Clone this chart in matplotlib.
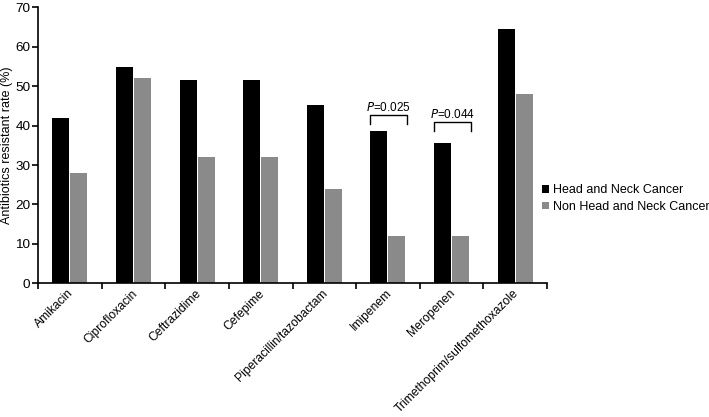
import matplotlib
matplotlib.use('Agg')
import matplotlib.pyplot as plt
import numpy as np

plt.rcParams['font.family'] = ['Liberation Sans', 'DejaVu Sans']

drugs = ['Amikacin', 'Ciprofloxacin', 'Ceftrazidime', 'Cefepime',
         'Piperacillin/tazobactam', 'Imipenem', 'Meropenen',
         'Trimethoprim/sulfomethoxazole']
hnc = [41.9, 54.8, 51.6, 51.6, 45.2, 38.7, 35.5, 64.5]
non_hnc = [27.9, 52.0, 32.0, 32.0, 24.0, 12.0, 12.0, 48.0]
p_idx = [5, 6]
p_text = ['0.025', '0.044']
p_bracket_y = [42.7, 40.9]

fig = plt.figure(figsize=(7.09, 4.17), dpi=100)
ax = fig.add_axes([38/709, 1-283.3/417, (547-38)/709, (283.3-7.3)/417])

x = np.arange(len(drugs))
w = 0.267
g = 0.016
ax.bar(x - w/2 - g/2, hnc, w, color='black', label='Head and Neck Cancer')
ax.bar(x + w/2 + g/2, non_hnc, w, color='#8a8a8a', label='Non Head and Neck Cancer')

# p-value brackets
for i, txt, top in zip(p_idx, p_text, p_bracket_y):
    x0 = i - w - g/2
    x1 = i + w + g/2 + 0.03
    ax.plot([x0, x0, x1, x1], [top - 2.3, top, top, top - 2.3], color='black', lw=1.0,
            solid_joinstyle='round')
    ax.text((x0 + x1)/2, top + 2.0, r'$\mathit{P}$' + '=' + txt, ha='center', va='center',
            fontsize=8.5)

ax.set_xlim(-0.5, len(drugs) - 0.5)
ax.set_ylim(0, 70)
ax.set_yticks(range(0, 71, 10))
ax.set_xticks(np.arange(-0.5, len(drugs), 1.0), minor=False)
ax.set_xticklabels([])
ax.set_xticks(x + 0.03, minor=True)
ax.set_xticklabels(drugs, minor=True, rotation=45, ha='right', va='center',
                   rotation_mode='anchor', fontsize=8.7)
ax.tick_params(axis='x', which='minor', length=0, pad=6)
ax.tick_params(axis='x', which='major', length=4, width=1.2, direction='out')
ax.tick_params(axis='y', length=4, width=1.2, labelsize=9.7, pad=1.5)
ax.spines['top'].set_visible(False)
ax.spines['right'].set_visible(False)
ax.spines['left'].set_linewidth(1.2)
ax.spines['bottom'].set_linewidth(1.2)
ax.set_ylabel('Antibiotics resistant rate (%)', fontsize=9)
ax.yaxis.set_label_coords(-0.049, 0.5)

ax.legend(loc='center left', bbox_to_anchor=(0.99, 0.307), frameon=False, fontsize=9,
          borderaxespad=0, borderpad=0,
          handlelength=0.55, handleheight=0.55, handletextpad=0.35, labelspacing=0.35)

fig.savefig('out.png', dpi=100)
